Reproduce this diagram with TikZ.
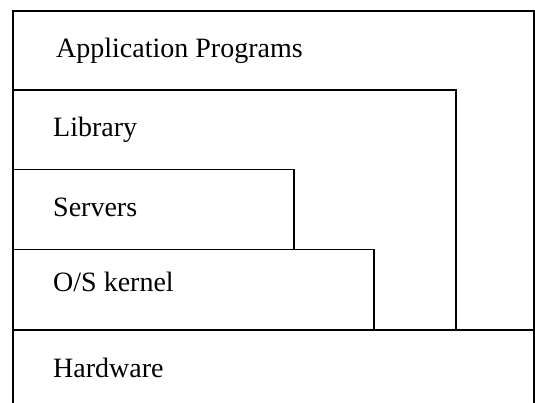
\documentclass[tikz,border=0pt]{standalone}
\usepackage{fontspec}
\setmainfont{Liberation Serif}
\begin{document}
\begin{tikzpicture}[x=1pt,y=-1pt,
  frame/.style={line width=1.8pt,line cap=rect,line join=miter},
  lbl/.style={anchor=base west,inner sep=0pt,font=\fontsize{28}{30}\selectfont}]
\useasboundingbox (0,0) rectangle (535,403);
\clip (0,0) rectangle (535,403);
% outer frame (bottom edge falls outside the picture)
\draw[frame] (13,410) -- (13,11) -- (534,11) -- (534,410);
% library box
\draw[frame] (13,90) -- (456,90) -- (456,330);
% servers box
\draw[frame] (13,169.5) -- (294,169.5) -- (294,249.5);
% O/S kernel box
\draw[frame] (13,249.5) -- (374,249.5) -- (374,330);
% hardware line
\draw[frame] (13,330) -- (534,330);
% labels
\node[lbl] (app) at (56,58) {Application Programs};
\node[lbl] (lib) at (53,137) {Library};
\node[lbl] (srv) at (53,217) {Servers};
\node[lbl] (os)  at (53,291) {O/S kernel};
\node[lbl] (hw)  at (53,377) {Hardware};
\end{tikzpicture}
\end{document}
